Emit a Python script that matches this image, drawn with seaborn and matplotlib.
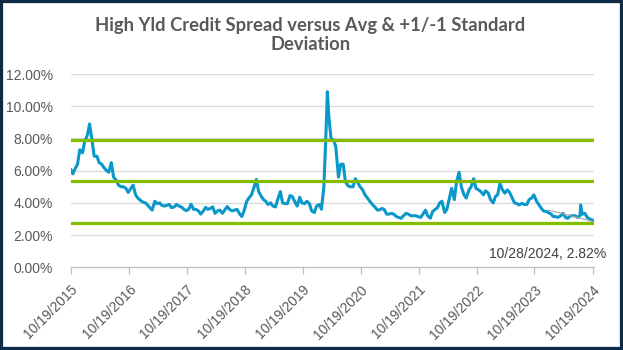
import numpy as np
import pandas as pd
import matplotlib
matplotlib.use("Agg")
import matplotlib.pyplot as plt
import matplotlib.dates as mdates
from matplotlib.patches import Rectangle
from matplotlib.ticker import FuncFormatter
import seaborn as sns

# ---------------- data (percent) ----------------
start_date = "2015-10-19"
start_value = 6.1
# semi-monthly values (1st and 15th), Nov .. Oct of each year
y2015_16 = [5.8, 6.1, 6.4, 7.3, 7.1, 7.8, 8.2, 8.9, 7.9, 6.9, 6.9, 6.5,
            6.4, 6.2, 6.0, 5.9, 6.5, 5.6, 5.4, 5.1, 5.0, 5.0, 4.9, 4.65]
y2016_17 = [4.9, 5.1, 4.5, 4.3, 4.15, 4.05, 4.0, 3.85, 3.7, 3.55, 4.1, 3.95,
            4.0, 3.85, 3.8, 3.85, 3.9, 3.7, 3.75, 3.9, 3.8, 3.75, 3.6, 3.52]
y2017_18 = [3.6, 3.92, 3.6, 3.6, 3.5, 3.3, 3.5, 3.72, 3.6, 3.65, 3.75, 3.35,
            3.5, 3.55, 3.35, 3.55, 3.77, 3.6, 3.5, 3.55, 3.6, 3.35, 3.15, 3.5]
y2018_19 = [4.1, 4.3, 4.5, 4.9, 5.45, 4.7, 4.4, 4.2, 4.1, 3.9, 4.0, 3.8,
            3.75, 4.2, 4.7, 4.0, 3.95, 3.95, 4.45, 4.4, 4.05, 3.8, 4.35, 4.0]
y2019_20 = [3.95, 4.1, 3.95, 3.5, 3.4, 3.8, 3.9, 3.6, 5.0, 8.5, 9.4, 8.0,
            7.9, 7.5, 5.6, 6.4, 6.4, 5.3, 5.05, 5.0, 5.0, 5.5, 5.25, 5.0]
y2020_21 = [4.8, 4.5, 4.3, 4.1, 3.9, 3.76, 3.56, 3.56, 3.65, 3.6, 3.3, 3.3,
            3.35, 3.3, 3.15, 3.1, 3.04, 3.2, 3.35, 3.3, 3.2, 3.2, 3.2, 3.15]
y2021_22 = [3.1, 3.3, 3.55, 3.2, 3.05, 3.46, 3.6, 3.7, 4.0, 4.1, 3.4, 3.6,
            4.3, 4.9, 4.2, 5.3, 5.9, 5.0, 4.5, 4.3, 4.8, 5.0, 5.5, 4.9]
y2022_23 = [4.8, 4.7, 4.5, 4.75, 4.6, 4.2, 4.0, 4.4, 4.5, 5.2, 4.8, 4.6,
            4.8, 4.65, 4.3, 4.0, 3.95, 3.87, 3.97, 3.9, 3.9, 4.2, 4.3, 4.5]
y2023_24 = [4.1, 3.9, 3.66, 3.5, 3.46, 3.4, 3.3, 3.15, 3.14, 3.1, 3.2, 3.35,
            3.1, 3.04, 3.2, 3.2, 3.2, 3.1, 3.2, 3.3, 3.35, 3.1, 3.0, 2.95]
extra_dates = ["2020-03-23", "2024-08-05", "2024-10-28"]
extra_values = [10.9, 3.87, 2.82]

band_levels = [7.89, 5.33, 2.75]   # +1 SD, average, -1 SD

x_tick_dates = ["2015-10-19", "2016-10-19", "2017-10-19", "2018-10-19", "2019-10-19",
                "2020-10-19", "2021-10-19", "2022-10-19", "2023-10-19", "2024-10-19"]
x_tick_labels = ["10/19/2015", "10/19/2016", "10/19/2017", "10/19/2018", "10/19/2019",
                 "10/19/2020", "10/19/2021", "10/19/2022", "10/19/2023", "10/19/2024"]
y_ticks = [0, 2, 4, 6, 8, 10, 12]

title = "High Yld Credit Spread versus Avg & +1/-1 Standard\nDeviation"
last_label = "10/28/2024, 2.82%"

# ---------------- build frame ----------------
semi = (y2015_16 + y2016_17 + y2017_18 + y2018_19 + y2019_20 +
        y2020_21 + y2021_22 + y2022_23 + y2023_24)
semi_dates = pd.date_range("2015-11-01", "2024-10-15", freq="SMS")
assert len(semi_dates) == len(semi), (len(semi_dates), len(semi))
dates = [pd.Timestamp(start_date)] + list(semi_dates) + [pd.Timestamp(d) for d in extra_dates]
vals = [start_value] + semi + extra_values
df = pd.DataFrame({"date": dates, "spread": vals}).sort_values("date").reset_index(drop=True)

# ---------------- plot ----------------
sns.set_theme(style="white")
plt.rcParams["font.family"] = ["Liberation Sans", "DejaVu Sans"]

gray_text = "#595959"
fig = plt.figure(figsize=(6.23, 3.50), dpi=100)
ax = fig.add_axes([70.7 / 623, 1 - 267.3 / 350, (594 - 70.7) / 623, (267.3 - 74) / 350])

for lvl in y_ticks[1:]:
    ax.axhline(lvl, color="#D9D9D9", lw=0.9, zorder=0)

sns.lineplot(data=df, x="date", y="spread", color="#0A97C9", linewidth=2.2, ax=ax, zorder=3)

for lvl in band_levels:
    ax.axhline(lvl, color="#84BD00", lw=2.3, zorder=4)

ax.set_ylim(0, 12)
ax.set_xlim(pd.Timestamp(start_date), pd.Timestamp(extra_dates[-1]))
ax.set_yticks(y_ticks)
ax.yaxis.set_major_formatter(FuncFormatter(lambda v, p: f"{v:.2f}%"))
ax.set_xticks([pd.Timestamp(d) for d in x_tick_dates])
ax.set_xticklabels(x_tick_labels, rotation=45, ha="right", va="top", rotation_mode="anchor")

ax.tick_params(axis="y", length=0, labelsize=10, labelcolor=gray_text, pad=13)
ax.tick_params(axis="x", length=5, width=0.9, color="#BFBFBF", direction="out",
               labelsize=10, labelcolor=gray_text, pad=6, bottom=True)
for s in ["left", "right", "top"]:
    ax.spines[s].set_visible(False)
ax.spines["bottom"].set_color("#BFBFBF")
ax.spines["bottom"].set_linewidth(0.9)
ax.set_xlabel("")
ax.set_ylabel("")
ax.set_facecolor("white")

# leader line + label for last point
last_d = pd.Timestamp(extra_dates[-1])
last_v = extra_values[-1]
ax.annotate("", xy=(last_d, last_v), xytext=(-46, 12), textcoords="offset pixels",
            arrowprops=dict(arrowstyle="-", color="#A6A6A6", lw=0.8, shrinkA=0, shrinkB=0),
            annotation_clip=False)
ax.annotate(last_label, xy=(last_d, last_v), xytext=(-46, -32), textcoords="offset pixels",
            ha="center", va="center", fontsize=10, color="#404040", annotation_clip=False)

fig.text(0.4985, 1 - 35 / 350, title, ha="center", va="center", fontsize=13.2,
         fontweight="bold", color=gray_text, linespacing=1.2,
         family=["Lato", "DejaVu Sans"])

fig.patches.append(Rectangle((0, 0), 1, 1, transform=fig.transFigure, fill=False,
                             edgecolor="#0E2A47", linewidth=4.5, zorder=10))

fig.savefig("out.png", dpi=100, facecolor="white")
